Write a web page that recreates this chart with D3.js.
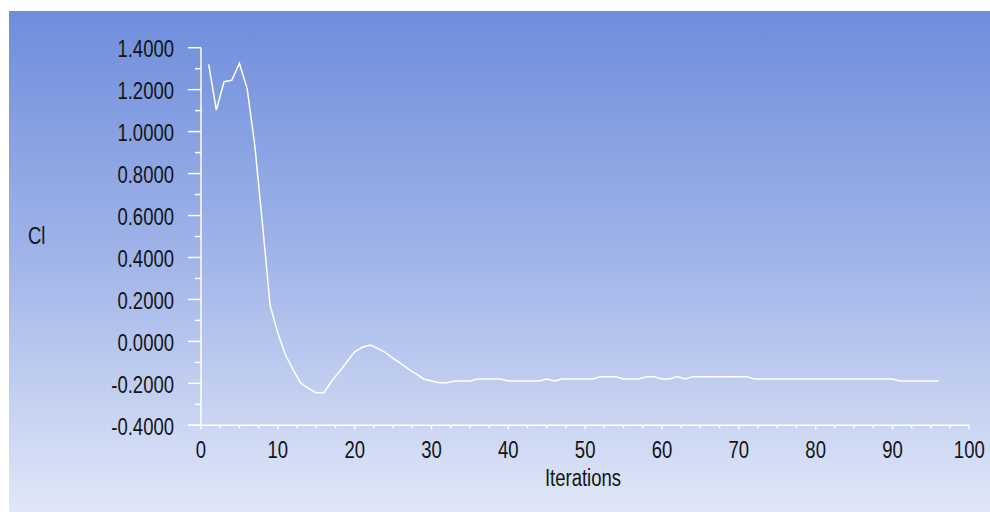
<!DOCTYPE html>
<html>
<head>
<meta charset="utf-8">
<script src="https://cdn.jsdelivr.net/npm/d3@7"></script>
<style>
  body { margin: 0; background: #fff; }
  text { font-family: "Liberation Sans", Arial, sans-serif; fill: #151515; }
</style>
</head>
<body>
<div id="chart"></div>
<script>
// iterations and lift coefficient
const iterations = d3.range(1, 97);
const clValues = [
  1.320, 1.103, 1.238, 1.245, 1.325, 1.206, 0.935, 0.560, 0.170, 0.040,
  -0.065, -0.136, -0.200, -0.224, -0.245, -0.245, -0.190, -0.145, -0.097, -0.050,
  -0.028, -0.017, -0.033, -0.054, -0.081, -0.105, -0.132, -0.155, -0.179, -0.189,
  -0.197, -0.197, -0.189, -0.189, -0.189, -0.179, -0.179, -0.179, -0.179, -0.189,
  -0.189, -0.189, -0.189, -0.189, -0.179, -0.189, -0.179, -0.179, -0.179, -0.179,
  -0.179, -0.168, -0.168, -0.168, -0.179, -0.179, -0.179, -0.168, -0.168, -0.179,
  -0.179, -0.168, -0.179, -0.168, -0.168, -0.168, -0.168, -0.168, -0.168, -0.168,
  -0.168, -0.179, -0.179, -0.179, -0.179, -0.179, -0.179, -0.179, -0.179, -0.179,
  -0.179, -0.179, -0.179, -0.179, -0.179, -0.179, -0.179, -0.179, -0.179, -0.179,
  -0.189, -0.189, -0.189, -0.189, -0.189, -0.189
];
const yMajorTicks = [-0.4, -0.2, 0, 0.2, 0.4, 0.6, 0.8, 1.0, 1.2, 1.4];
const xMajorTicks = [0, 10, 20, 30, 40, 50, 60, 70, 80, 90, 100];

const width = 990, height = 512;
const svg = d3.select('#chart').append('svg')
  .attr('width', width)
  .attr('height', height);

const grad = svg.append('defs').append('linearGradient')
  .attr('id', 'bg')
  .attr('x1', 0).attr('y1', 0).attr('x2', 0).attr('y2', 1);
grad.append('stop').attr('offset', '0%').attr('stop-color', '#6e8ddc');
grad.append('stop').attr('offset', '50%').attr('stop-color', '#a2b5e9');
grad.append('stop').attr('offset', '100%').attr('stop-color', '#e0e7f7');

svg.append('rect')
  .attr('x', 9).attr('y', 11)
  .attr('width', width - 9).attr('height', height - 11)
  .attr('fill', 'url(#bg)');

const x = d3.scaleLinear().domain([0, 100]).range([201, 969.3]);
const y = d3.scaleLinear().domain([-0.4, 1.4]).range([425.3, 47.7]);

const axisColor = '#ffffff';
// plain hyphen for negatives, like the original
const fmt = d => d3.format('.4f')(d).replace('\u2212', '-');

// y axis
const yAxis = svg.append('g');
yAxis.append('line')
  .attr('x1', x(0)).attr('x2', x(0))
  .attr('y1', y(1.4)).attr('y2', y(-0.4))
  .attr('stroke', axisColor).attr('stroke-width', 1.5);
yAxis.selectAll('.minor')
  .data(d3.range(-3, 14, 2).map(d => d / 10))
  .enter().append('line')
  .attr('x1', x(0) - 6).attr('x2', x(0))
  .attr('y1', d => y(d)).attr('y2', d => y(d))
  .attr('stroke', axisColor).attr('stroke-width', 1.5);
yAxis.selectAll('.major')
  .data(yMajorTicks)
  .enter().append('line')
  .attr('x1', x(0) - 13).attr('x2', x(0))
  .attr('y1', d => y(d)).attr('y2', d => y(d))
  .attr('stroke', axisColor).attr('stroke-width', 1.5);
yAxis.selectAll('text')
  .data(yMajorTicks)
  .enter().append('text')
  .attr('transform', d => `translate(174,${y(d) + 9.3}) scale(1,1.3)`)
  .attr('text-anchor', 'end')
  .style('font-size', '18.5px')
  .text(fmt);

// x axis
const xAxis = svg.append('g');
xAxis.append('line')
  .attr('x1', x(0) - 13).attr('x2', x(100))
  .attr('y1', y(-0.4)).attr('y2', y(-0.4))
  .attr('stroke', axisColor).attr('stroke-width', 1.5);
xAxis.selectAll('.minor')
  .data(d3.range(0, 101, 2.5).filter(d => d % 10 !== 0))
  .enter().append('line')
  .attr('x1', d => x(d)).attr('x2', d => x(d))
  .attr('y1', y(-0.4)).attr('y2', y(-0.4) + 3)
  .attr('stroke', axisColor).attr('stroke-width', 1.5);
xAxis.selectAll('.major')
  .data(xMajorTicks)
  .enter().append('line')
  .attr('x1', d => x(d)).attr('x2', d => x(d))
  .attr('y1', y(-0.4)).attr('y2', y(-0.4) + 4)
  .attr('stroke', axisColor).attr('stroke-width', 1.5);
xAxis.selectAll('text')
  .data(xMajorTicks)
  .enter().append('text')
  .attr('transform', d => `translate(${x(d)},458) scale(1,1.3)`)
  .attr('text-anchor', 'middle')
  .style('font-size', '18.5px')
  .text(d => d);

// axis titles
svg.append('text')
  .attr('transform', 'translate(28,244) scale(1,1.3)')
  .style('font-size', '18.5px')
  .text('Cl');
svg.append('text')
  .attr('transform', 'translate(583,486) scale(1,1.3)')
  .attr('text-anchor', 'middle')
  .style('font-size', '18.5px')
  .text('Iterations');

// the curve
const line = d3.line()
  .x((d, i) => x(iterations[i]))
  .y(d => y(d));
svg.append('path')
  .datum(clValues)
  .attr('d', line)
  .attr('fill', 'none')
  .attr('stroke', '#ffffff')
  .attr('stroke-width', 1.5);
</script>
</body>
</html>
